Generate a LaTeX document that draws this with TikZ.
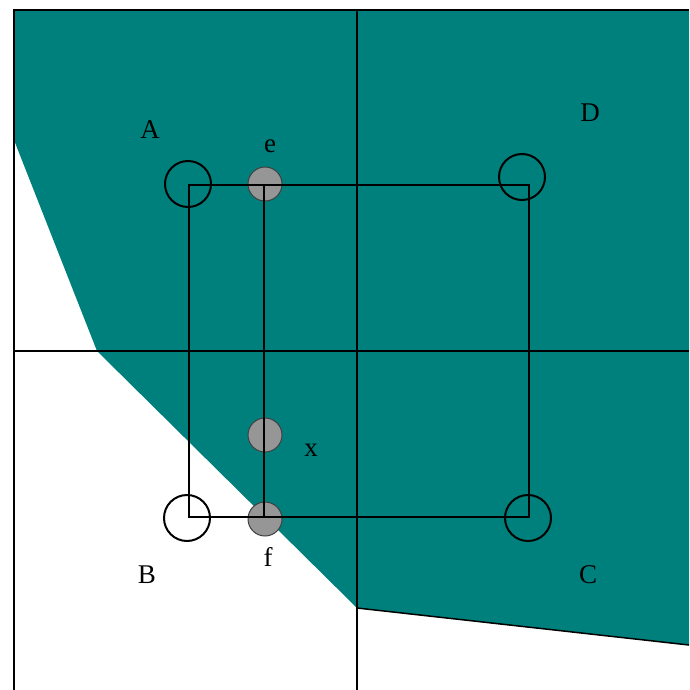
\documentclass[tikz,border=0pt]{standalone}
\usepackage{fontspec}
\setmainfont{Liberation Serif}
\definecolor{tealfill}{RGB}{0,128,124}
\definecolor{dotgray}{RGB}{150,150,150}
\begin{document}
\begin{tikzpicture}[x=1pt,y=-1pt,
  frameline/.style={black, line width=1.5pt},
  ring/.style={circle, draw=black, line width=2pt, minimum size=46pt, inner sep=0pt},
  dot/.style={circle, draw=black!75, line width=1pt, fill=dotgray, minimum size=34pt, inner sep=0pt},
  lbl/.style={font=\fontsize{27}{30}\selectfont, inner sep=0pt}]
\useasboundingbox (0,0) rectangle (689,690);
\fill[white] (0,0) rectangle (689,690);
% teal region
\fill[tealfill] (14,10) -- (689,10) -- (689,645) -- (357,608) -- (97,351) -- (14,140) -- cycle;
\draw[line width=1.5pt] (357,608) -- (689,645);
% frame lines
\coordinate (tl) at (14,10);
\coordinate (tr) at (689,10);
\coordinate (bl) at (14,690);
\coordinate (mt) at (357,10);
\coordinate (mb) at (357,690);
\coordinate (ml) at (14,351);
\coordinate (mr) at (689,351);
\draw[frameline] (bl) -- (tl) -- (tr);
\draw[frameline] (mt) -- (mb);
\draw[frameline] (ml) -- (mr);
% circles
\node[ring] (A) at (188,184) {};
\node[ring] (D) at (522,177) {};
\node[ring] (C) at (528,518) {};
\node[ring] (B) at (187,518) {};
\node[dot] (e) at (265,184) {};
\node[dot] (x) at (265,435) {};
\node[dot] (f) at (265,519) {};
% rectangle corners
\coordinate (cA) at (189,185);
\coordinate (cD) at (529,185);
\coordinate (cC) at (529,517);
\coordinate (cB) at (189,517);
\coordinate (ce) at (264,185);
\coordinate (cf) at (264,517);
\draw[line width=1.5pt] (cA) -- (cD) -- (cC) -- (cB) -- cycle;
\draw[line width=1.5pt] (ce) -- (cf);
% labels
\node[lbl] (lA) at (150,130) {A};
\node[lbl] (le) at (270,146) {e};
\node[lbl] (lD) at (590,113) {D};
\node[lbl] (lx) at (311,450) {x};
\node[lbl] (lf) at (268,557) {f};
\node[lbl] (lB) at (147,575) {B};
\node[lbl] (lC) at (588,575) {C};
\end{tikzpicture}
\end{document}
